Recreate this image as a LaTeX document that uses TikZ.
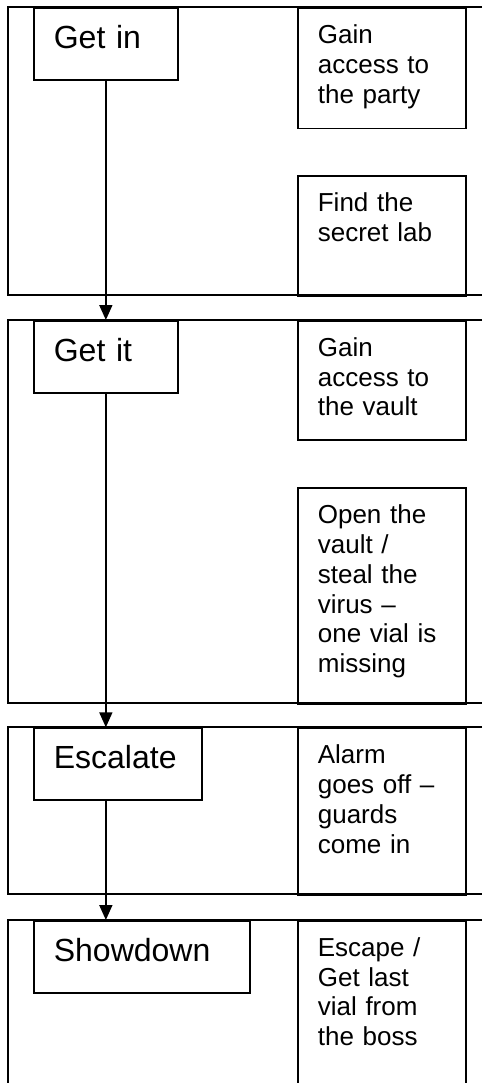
\documentclass[tikz,border=0pt]{standalone}
\usepackage{fontspec}
\setmainfont{Liberation Sans}
\usetikzlibrary{arrows.meta}

\begin{document}
\begin{tikzpicture}[
						x=1pt, y=-1pt,
						line width=1.7pt,
						stage/.style = {draw, anchor=north west, inner sep=0pt, inner xsep=20pt, align=left, text height=40.5pt, text depth=31.5pt, font=\fontsize{32pt}{37pt}\selectfont},
						cell/.style = {draw, anchor=north west, inner sep=0pt, inner xsep=20pt, text width=128pt, align=left, text height=35.5pt, font=\fontsize{26pt}{29.8pt}\selectfont},
						flow/.style = {-{Triangle[width=13pt, length=15pt]}}
					]
\useasboundingbox (0,0) rectangle (482,1083);
\clip (0,0) rectangle (482,1083);

% phases
\draw (482,7.3) -- (8.3,7.3) -- (8.3,295.3) -- (482,295.3);
\draw (482,320) -- (8.3,320) -- (8.3,703.3) -- (482,703.3);
\draw (482,727.3) -- (8.3,727.3) -- (8.3,894.3) -- (482,894.3);
\draw (482,920) -- (8.3,920) -- (8.3,1100);

\node[stage, text width=104pt] (getin) at (33,7.3) {Get in};
\node[stage, text width=104pt] (getit) at (33,320) {Get it};
\node[stage, text width=128pt] (escalate) at (33,727.3) {Escalate};
\node[stage, text width=176pt] (showdown) at (33,920) {Showdown};

\node[cell, text depth=84.9pt] (party) at (297,7.3) {Gain\\access to\\the party};
\node[cell, text depth=84.8pt] (lab) at (297,175) {Find the\\secret lab};
\node[cell, text depth=83.8pt] (vault) at (297,320) {Gain\\access to\\the vault};
\node[cell, text depth=180.5pt] (steal) at (297,487.3) {Open the\\vault /\\steal the\\virus –\\one vial is\\missing};
\node[cell, text depth=131.5pt] (alarm) at (297,727.3) {Alarm\\goes off –\\guards\\come in};
\node[cell, text depth=200pt] (boss) at (297,920) {Escape /\\Get last\\vial from\\the boss};

\draw[flow] (getin) -- (getit);
\draw[flow] (getit) -- (escalate.north -| getit);
\draw[flow] (escalate.south -| getit) -- (showdown.north -| getit);
\end{tikzpicture}
\end{document}
